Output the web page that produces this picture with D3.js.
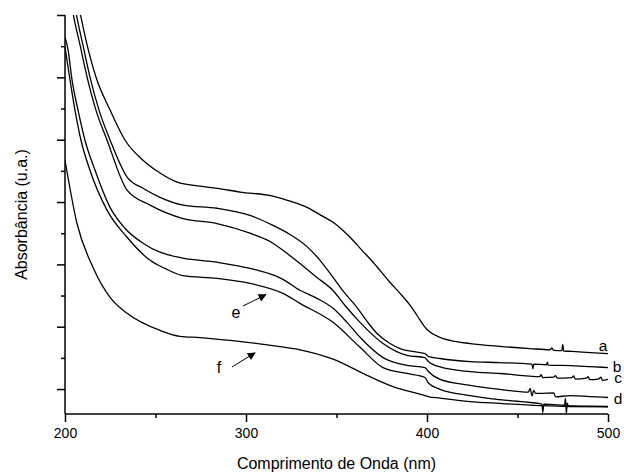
<!DOCTYPE html>
<html>
<head>
<meta charset="utf-8">
<script src="https://cdn.jsdelivr.net/npm/d3@7"></script>
<style>
  html, body { margin: 0; padding: 0; background: #fff; }
  svg { display: block; font-family: "Liberation Sans", Arial, sans-serif; }
</style>
</head>
<body>
<svg id="chart" width="624" height="475"></svg>
<script>
// ---- data (wavelength nm, absorbance a.u.) ----
const xTicks = [200, 300, 400, 500];
const curveNames = ["a", "b", "c", "d", "e", "f"];

const curveA = [[206,1.264],[208.3,1.207],[212.2,1.104],[217.1,1.001],[224.9,0.895],[233.1,0.799],[243.1,0.734],[252.5,0.693],[261.9,0.664],[274.6,0.651],[284,0.644],[296.7,0.632],[314.9,0.619],[324.3,0.603],[333.7,0.583],[342.5,0.554],[348.1,0.535],[353.6,0.509],[357.5,0.487],[364.1,0.445],[370.2,0.407],[379.6,0.342],[385.1,0.307],[390.6,0.269],[394.5,0.236],[399,0.198],[400.6,0.188],[407.2,0.166],[412.7,0.156],[423.8,0.146],[440.3,0.137],[456.9,0.130],[468,0.126],[469,0.132],[470,0.124],[474.5,0.123],[475,0.143],[475.5,0.122],[480,0.121],[490,0.117],[500,0.114]];

const curveB = [[204.4,1.264],[206.1,1.207],[209.9,1.104],[213.8,1.001],[218.8,0.895],[224.9,0.799],[234.3,0.680],[243.1,0.644],[252.5,0.615],[265.2,0.590],[284,0.580],[302.2,0.557],[314.9,0.525],[324.3,0.496],[333.7,0.457],[340.9,0.413],[348.1,0.358],[354.7,0.307],[361.3,0.262],[366.9,0.217],[372.4,0.178],[379.6,0.146],[385.1,0.130],[391.7,0.121],[398.9,0.114],[400.6,0.105],[407.2,0.098],[423.8,0.088],[440.3,0.085],[458,0.080],[458.5,0.066],[459,0.080],[466,0.078],[466.5,0.086],[467,0.077],[479,0.075],[490,0.072],[500,0.069]];

const curveC = [[202.8,1.264],[204.4,1.207],[208.3,1.104],[212.2,1.001],[217.1,0.895],[223.2,0.799],[234.3,0.638],[247,0.590],[265.2,0.547],[284,0.531],[302.2,0.500],[314.9,0.468],[320.4,0.445],[329.8,0.403],[339.2,0.358],[348.1,0.316],[354.7,0.268],[363,0.214],[375.7,0.146],[388.9,0.108],[398.9,0.101],[400.6,0.089],[407.2,0.071],[423.8,0.056],[440.3,0.050],[462.4,0.040],[463,0.046],[464,0.037],[470,0.038],[471,0.043],[472,0.035],[480,0.037],[481,0.042],[482,0.032],[488,0.035],[489,0.040],[490,0.030],[495,0.033],[496,0.038],[497,0.028],[500,0.031]];

const curveD = [[200,1.129],[201.7,1.088],[203.9,0.991],[207.2,0.895],[211,0.799],[216.6,0.702],[224.9,0.583],[233.1,0.516],[243.1,0.468],[252.5,0.439],[265.2,0.420],[284,0.407],[302.2,0.387],[320.4,0.352],[329.8,0.317],[339.2,0.291],[348.1,0.259],[355.8,0.214],[363,0.166],[375.7,0.101],[388.9,0.076],[398.9,0.069],[400.6,0.057],[407.2,0.031],[423.8,0.012],[440.3,-0.001],[456,-0.010],[457,0.002],[458,-0.022],[459,-0.004],[460,-0.014],[462.4,-0.014],[470,-0.012],[471,-0.025],[479,-0.021],[490,-0.024],[500,-0.027]];

const curveE = [[200,1.097],[201.1,1.055],[202.8,0.991],[205.5,0.895],[208.8,0.799],[213.8,0.702],[223.2,0.574],[234.3,0.487],[247,0.413],[255.2,0.387],[265.2,0.364],[284,0.355],[302.2,0.339],[320.4,0.307],[329.8,0.275],[348.1,0.214],[363,0.134],[375.7,0.069],[388.9,0.050],[398.9,0.037],[400.6,0.021],[407.2,-0.001],[423.8,-0.021],[440.3,-0.034],[462.4,-0.047],[463.5,-0.048],[464,-0.075],[464.5,-0.048],[470,-0.050],[476,-0.052],[476.5,-0.030],[477,-0.078],[477.5,-0.045],[478,-0.053],[490,-0.055],[500,-0.056]];

const curveF = [[200,0.734],[206.6,0.532],[215.5,0.390],[224.9,0.294],[234.3,0.243],[252.5,0.188],[263.5,0.169],[274.6,0.165],[291.2,0.156],[318.8,0.136],[329.8,0.126],[348.1,0.096],[366.9,0.044],[381.2,0.008],[398.9,-0.021],[400.6,-0.024],[407.2,-0.029],[423.8,-0.040],[440.3,-0.046],[462.4,-0.053],[479,-0.056],[500,-0.057]];

const curves = [curveA, curveB, curveC, curveD, curveE, curveF];

// ---- layout ----
const svg = d3.select("#chart");
const mLeft = 65, mRight = 608, mTop = 15, mBottom = 414;

const x = d3.scaleLinear().domain([200, 500]).range([mLeft, mRight]);
const y = d3.scaleLinear().domain([-0.08, 1.2]).range([mBottom, mTop]);

const defs = svg.append("defs");
defs.append("clipPath").attr("id", "plotclip")
  .append("rect").attr("x", mLeft).attr("y", mTop)
  .attr("width", mRight - mLeft).attr("height", mBottom - mTop);

const line = d3.line().curve(d3.curveMonotoneX).x(d => x(d[0])).y(d => y(d[1]));

const g = svg.append("g").attr("clip-path", "url(#plotclip)");
curves.forEach(c => {
  g.append("path").datum(c).attr("d", line)
    .attr("fill", "none").attr("stroke", "#000").attr("stroke-width", 1.3)
    .attr("stroke-linejoin", "round");
});

// ---- axes ----
const xAxis = d3.axisBottom(x).tickValues(xTicks).tickSize(8).tickPadding(6).tickFormat(d3.format("d"));
const xAxisMinor = d3.axisBottom(x).tickValues([250, 350, 450]).tickSize(4).tickFormat("");
const yMajor = d3.range(0, 1.21, 0.2);
const yMinor = d3.range(0.1, 1.2, 0.2);
const yAxis = d3.axisLeft(y).tickValues(yMajor).tickSize(8).tickFormat("");
const yAxisMinor = d3.axisLeft(y).tickValues(yMinor).tickSize(4).tickFormat("");

function style(sel) {
  sel.select(".domain").remove();
  sel.selectAll("line").attr("stroke", "#000").attr("stroke-width", 1.5);
  sel.selectAll("text").attr("fill", "#000").attr("font-size", 14)
    .attr("font-family", "Liberation Sans, Arial, sans-serif");
}
svg.append("g").attr("transform", `translate(0,${mBottom})`).call(xAxis).call(style);
svg.append("g").attr("transform", `translate(0,${mBottom})`).call(xAxisMinor).call(style);
svg.append("g").attr("transform", `translate(${mLeft},0)`).call(yAxis).call(style);
svg.append("g").attr("transform", `translate(${mLeft},0)`).call(yAxisMinor).call(style);

// axis lines
svg.append("line").attr("x1", mLeft).attr("x2", mRight).attr("y1", mBottom).attr("y2", mBottom)
  .attr("stroke", "#000").attr("stroke-width", 1.5);
svg.append("line").attr("x1", mLeft).attr("x2", mLeft).attr("y1", mTop).attr("y2", mBottom)
  .attr("stroke", "#000").attr("stroke-width", 1.5);

// titles
svg.append("text").attr("x", (mLeft + mRight) / 2).attr("y", 469)
  .attr("text-anchor", "middle").attr("font-size", 16).text("Comprimento de Onda (nm)");
svg.append("text").attr("transform", `translate(27,${(mTop + mBottom) / 2}) rotate(-90)`)
  .attr("text-anchor", "middle").attr("font-size", 16).text("Absorbância (u.a.)");

// right-side curve labels (placed next to each curve's last point)
const lab = svg.append("g").attr("font-size", 15.5).attr("text-anchor", "middle");
const endA = curveA[curveA.length - 1], endB = curveB[curveB.length - 1],
      endC = curveC[curveC.length - 1], endD = curveD[curveD.length - 1];
lab.append("text").attr("x", x(endA[0]) - 5).attr("y", y(endA[1]) - 3).text(curveNames[0]);
lab.append("text").attr("x", x(endB[0]) + 9).attr("y", y(endB[1]) + 4).text(curveNames[1]);
lab.append("text").attr("x", x(endC[0]) + 10).attr("y", y(endC[1]) + 4).text(curveNames[2]);
lab.append("text").attr("x", x(endD[0]) + 10).attr("y", y(endD[1]) + 7).text(curveNames[3]);

// arrows for e and f
defs.append("marker").attr("id", "arrow")
  .attr("viewBox", "0 0 10 10").attr("refX", 9).attr("refY", 5)
  .attr("markerWidth", 10).attr("markerHeight", 8).attr("markerUnits", "userSpaceOnUse")
  .attr("orient", "auto")
  .append("path").attr("d", "M0,0 L10,5 L0,10 Z").attr("fill", "#000");

function arrowLabel(txt, tx, ty, x1, y1, x2, y2) {
  svg.append("text").attr("x", tx).attr("y", ty).attr("font-size", 16)
    .attr("text-anchor", "middle").text(txt);
  svg.append("line").attr("x1", x1).attr("y1", y1).attr("x2", x2).attr("y2", y2)
    .attr("stroke", "#000").attr("stroke-width", 1).attr("marker-end", "url(#arrow)");
}
arrowLabel(curveNames[4], 236, 318, 243, 306, x(311), y(0.322) + 6);
arrowLabel(curveNames[5], 219, 373, 232, 367, x(305), y(0.142) + 8);
</script>
</body>
</html>
